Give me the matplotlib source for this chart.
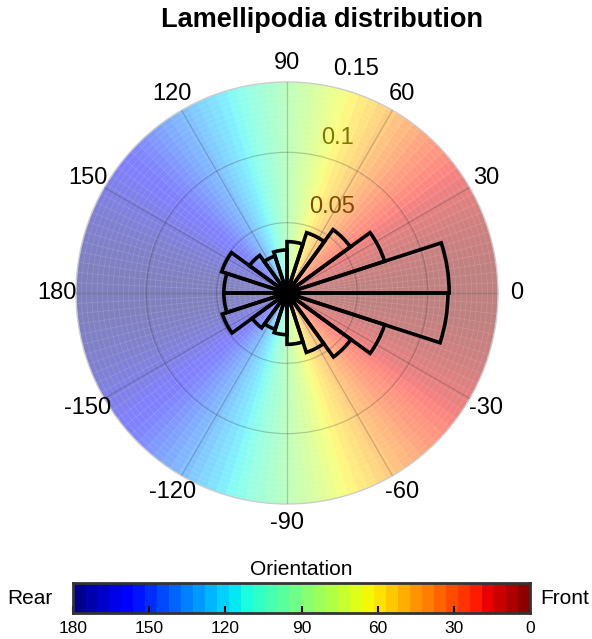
import numpy as np
import matplotlib.pyplot as plt

plt.rcParams['font.family'] = ['Liberation Sans', 'DejaVu Sans']

# rose histogram: 20 bins of 18 deg, probability per bin (from -180 to 180)
bin_edges_deg = np.arange(-180, 181, 18)
probability = [0.0449, 0.0483, 0.0306, 0.0271, 0.0296, 0.0365, 0.0444, 0.0562, 0.0730, 0.1144,
               0.1153, 0.0730, 0.0557, 0.0451, 0.0365, 0.0306, 0.0276, 0.0330, 0.0488, 0.0449]

theta_ticks = [0, 30, 60, 90, 120, 150, 180, -150, -120, -90, -60, -30]
r_ticks = [0.05, 0.1, 0.15]
r_max = 0.15

cbar_ticks = [180, 150, 120, 90, 60, 30, 0]

jet = plt.get_cmap('jet')


def washed(v, a=0.5):
    # jet colour seen at 50% opacity over white
    c = np.array(jet(v))[..., :3]
    return c * a + (1 - a)


def orient_val(deg):
    # front (cos = 1) -> red end, rear (cos = -1) -> blue end
    return (1 + np.cos(np.deg2rad(deg))) / 2


fig = plt.figure(figsize=(5.92, 6.39), dpi=100)
ax = fig.add_axes([76 / 592, 1 - 504 / 639, 422 / 592, 422 / 639], projection='polar')

# jet background, coloured by the cosine of the angle
T = np.linspace(0, 2 * np.pi, 129)
tc = np.rad2deg((T[:-1] + T[1:]) / 2)
face = washed(orient_val(tc))
for i in range(len(tc)):
    ax.fill_between(np.linspace(T[i], T[i + 1], 6), 0, r_max, color=face[i],
                    linewidth=0.6, edgecolor=face[i], zorder=1)

# faint white mesh over the background
for rr in np.linspace(0, r_max, 41)[1:-1]:
    ax.plot(np.linspace(0, 2 * np.pi, 400), np.full(400, rr), color='white', alpha=0.15,
            linewidth=0.5, zorder=1.5)
for tt in T[:-1]:
    ax.plot([tt, tt], [0, r_max], color='white', alpha=0.15, linewidth=0.5, zorder=1.5)

# radial tick labels, tinted where they fall inside the coloured disc
label_angle = {0.05: 60, 0.1: 72}
for rt in r_ticks:
    col = 'black'
    if rt in label_angle:
        col = 0.5 * np.array(jet(orient_val(label_angle[rt])))[:3]
    ax.annotate('%g' % rt, xy=(np.deg2rad(80), rt), xytext=(7, 12), textcoords='offset points',
                ha='left', va='center', fontsize=17, color=col, zorder=2,
                annotation_clip=False)

centers = np.deg2rad((bin_edges_deg[:-1] + bin_edges_deg[1:]) / 2) % (2 * np.pi)
ax.bar(centers, probability, width=np.deg2rad(18), bottom=0, fill=False,
       edgecolor='black', linewidth=2.6, joinstyle='miter', zorder=3)

ax.set_xlim(0, 2 * np.pi)
ax.set_ylim(0, r_max)
ax.set_yticks(r_ticks[:-1])
ax.set_yticklabels([])
ax.set_thetagrids([t % 360 for t in theta_ticks], [str(t) for t in theta_ticks], fontsize=17)
ax.tick_params(axis='x', pad=3)
ax.set_axisbelow(False)
ax.grid(True, color='0.2', alpha=0.25, linewidth=0.9)
ax.spines['polar'].set_color('0.8')
ax.spines['polar'].set_linewidth(1.0)

fig.text(322 / 592, 1 - 20 / 639, 'Lamellipodia distribution', ha='center', va='center',
         fontsize=19.5, fontweight='bold')

# orientation colour bar
cax = fig.add_axes([73 / 592, 1 - 613 / 639, 457 / 592, 30 / 639])
n_seg = 38
edges = np.linspace(0, 180, n_seg + 1)
vals = 1 - ((edges[:-1] + edges[1:]) / 2) / 180
cax.pcolormesh(edges, [0, 1], vals[None, :], cmap='jet', vmin=0, vmax=1, shading='flat')
cax.set_xlim(180, 0)
cax.set_ylim(0, 1)
cax.set_yticks([])
cax.set_xticks(cbar_ticks)
cax.set_xticklabels([str(t) for t in cbar_ticks])
cax.tick_params(axis='x', direction='in', length=5, width=1.5, labelsize=12.5, pad=6)
for s in cax.spines.values():
    s.set_color('0.2')
    s.set_linewidth(2)
cax.set_title('Orientation', fontsize=15, pad=6)
cax.text(-0.044, 0.5, 'Rear', transform=cax.transAxes, ha='right', va='center', fontsize=15)
cax.text(1.022, 0.5, 'Front', transform=cax.transAxes, ha='left', va='center', fontsize=15)

fig.savefig('out.png', dpi=100)
